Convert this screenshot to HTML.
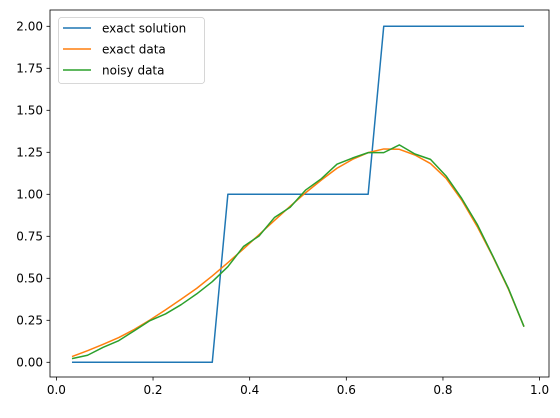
<!DOCTYPE html>
<html><head><meta charset="utf-8"><style>
html,body{margin:0;padding:0;background:#fff}
text{font-family:"DejaVu Sans","Liberation Sans",sans-serif;font-size:12px;fill:#000}
</style></head><body>
<svg id="chart" width="560" height="413" viewBox="0 0 560 413" xmlns="http://www.w3.org/2000/svg">
<g id="plot"></g>
<g id="axes"></g>
<g id="legend"></g>
</svg>
<script>
const N = 31;
const exactSolution = [0,0,0,0,0,0,0,0,0,0,1,1,1,1,1,1,1,1,1,1,2,2,2,2,2,2,2,2,2,2];
const exactData = [0.034,0.069,0.107,0.147,0.196,0.252,0.312,0.375,0.44,0.514,0.593,0.675,0.76,0.845,0.929,1.01,1.085,1.155,1.208,1.248,1.27,1.268,1.234,1.183,1.095,0.966,0.808,0.629,0.435,0.212];
const noisyData = [0.022,0.042,0.089,0.129,0.188,0.248,0.288,0.343,0.407,0.48,0.569,0.689,0.752,0.863,0.923,1.026,1.093,1.179,1.216,1.248,1.248,1.294,1.24,1.208,1.109,0.976,0.821,0.633,0.44,0.212];
const xTicks = [0.0,0.2,0.4,0.6,0.8,1.0];
const xTickLabels = ["0.0","0.2","0.4","0.6","0.8","1.0"];
const yTicks = [0,0.25,0.5,0.75,1.0,1.25,1.5,1.75,2.0];
const yTickLabels = ["0.00","0.25","0.50","0.75","1.00","1.25","1.50","1.75","2.00"];
const seriesNames = ["exact solution","exact data","noisy data"];
const colors = ["#1f77b4","#ff7f0e","#2ca02c"];

const NS = "http://www.w3.org/2000/svg";
const L=50,R=549,T=10,B=377;
function xs(v){return 56.4+v*483.2;}
function ys(v){return 362.3-v*168;}
function mk(tag,attrs,parent){const e=document.createElementNS(NS,tag);for(const k in attrs)e.setAttribute(k,attrs[k]);parent.appendChild(e);return e;}
const plot=document.getElementById('plot'),axes=document.getElementById('axes'),leg=document.getElementById('legend');
const xvals=exactSolution.map((_,i)=>(i+1)/N);
[exactSolution,exactData,noisyData].forEach((s,si)=>{
  const d=s.map((v,i)=>(i?'L':'M')+xs(xvals[i]).toFixed(2)+','+ys(v).toFixed(2)).join(' ');
  const p=mk('path',{d:d,fill:'none',stroke:colors[si],'stroke-width':1.5,'stroke-linejoin':'round'},plot);
  
  
});
const fr=mk('rect',{x:L,y:T,width:R-L,height:B-T,fill:'none',stroke:'#000','stroke-width':0.8},axes);


xTicks.forEach((v,i)=>{
  const x=xs(v);
  const t=mk('line',{x1:x,x2:x,y1:B,y2:B+3.5,stroke:'#000','stroke-width':0.8},axes);
  
  
  const tx=mk('text',{x:x,y:B+17,'text-anchor':'middle'},axes);tx.textContent=xTickLabels[i];
  
  
});
yTicks.forEach((v,i)=>{
  const y=ys(v);
  const t=mk('line',{x1:L-3.5,x2:L,y1:y,y2:y,stroke:'#000','stroke-width':0.8},axes);
  
  
  const tx=mk('text',{x:L-7,y:y+4.3,'text-anchor':'end'},axes);tx.textContent=yTickLabels[i];
  
  
});
const box=mk('rect',{x:58.5,y:17.5,width:146,height:66,rx:3,fill:'#fff','fill-opacity':0.8,stroke:'#ccc','stroke-width':0.8},leg);


seriesNames.forEach((n,i)=>{
  const y=28+i*21;
  const l=mk('line',{x1:63,x2:91,y1:y,y2:y,stroke:colors[i],'stroke-width':1.5},leg);
  
  
  const tx=mk('text',{x:102,y:y+4.5},leg);tx.textContent=n;
  
  
});
</script>
</body></html>
